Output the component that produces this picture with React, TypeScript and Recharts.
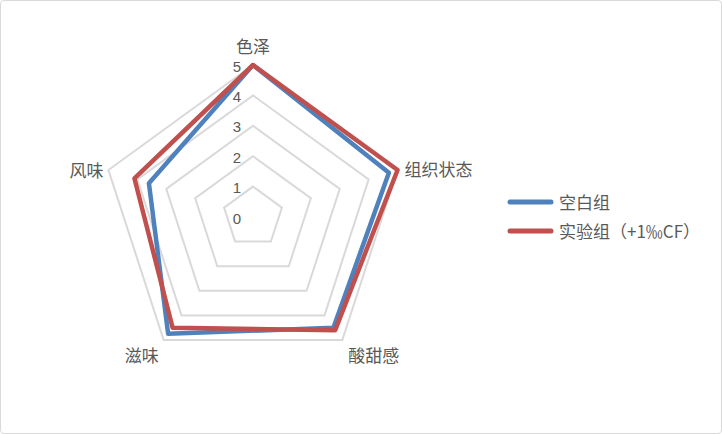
import React from "react";
import { RadarChart, Radar, PolarGrid, PolarAngleAxis, PolarRadiusAxis, Legend } from "recharts";

const attributes = ["色泽", "组织状态", "酸甜感", "滋味", "风味"];
const blankGroup = [5, 4.7, 4.5, 4.75, 3.6];
const cfGroup = [5, 5, 4.6, 4.5, 4.1];
const radiusTicks = [0, 1, 2, 3, 4, 5];
const seriesNames = ["空白组", "实验组（+1‰CF）"];

const data = attributes.map((name, i) => ({ name, blank: blankGroup[i], cf: cfGroup[i] }));

const W = 722;
const H = 434;
const CX = 253;
const CY = 217;
const R = 152;
const FONT = "'Noto Sans CJK SC', 'Noto Sans', sans-serif";
const TEXT = "#595959";
const BLUE = "#4F81BD";
const RED = "#C0504D";

// label placement around each vertex, like Excel does it
const LABEL_POS = [
  { dx: 0, dy: -20, anchor: "middle" },
  { dx: 7, dy: -2, anchor: "start" },
  { dx: 6, dy: 15, anchor: "start" },
  { dx: -5, dy: 15, anchor: "end" },
  { dx: -5, dy: -1, anchor: "end" },
];

function AngleTick(props: any) {
  const i = props.index ?? 0;
  const a = ((90 - i * 72) * Math.PI) / 180;
  const vx = CX + R * Math.cos(a);
  const vy = CY - R * Math.sin(a);
  const p = LABEL_POS[i];
  return (
    <text x={vx + p.dx} y={vy + p.dy} textAnchor={p.anchor} dominantBaseline="central"
      fill={TEXT} fontSize={17} fontFamily={FONT}>
      {props.payload.value}
    </text>
  );
}

function RadiusTick(props: any) {
  return (
    <text x={props.x - 16} y={props.y + 1} textAnchor="middle" dominantBaseline="central"
      fill={TEXT} fontSize={15} fontFamily="'Liberation Sans', sans-serif">
      {props.payload.value}
    </text>
  );
}

function LegendBox() {
  const colors = [BLUE, RED];
  return (
    <div style={{ fontFamily: FONT, fontSize: 17, color: TEXT }}>
      {seriesNames.map((n, i) => (
        <div key={n} style={{ display: "flex", alignItems: "center", height: 29 }}>
          <svg width={48} height={10} style={{ marginRight: 4 }}>
            <line x1={3} y1={5} x2={44} y2={5} stroke={colors[i]} strokeWidth={5} strokeLinecap="round" />
          </svg>
          <span>{n}</span>
        </div>
      ))}
    </div>
  );
}

export default function App() {
  return (
    <div style={{ position: "absolute", left: 0, top: 0, width: W, height: H, background: "#fff" }}>
      <div style={{ position: "absolute", inset: 0, border: "1px solid #D9D9D9", borderRadius: 4, boxSizing: "border-box" }} />
      <RadarChart width={W} height={H} data={data} cx={CX} cy={CY} outerRadius={R}
        margin={{ top: 0, right: 0, bottom: 0, left: 0 }}>
        <PolarGrid gridType="polygon" radialLines={false} stroke="#D9D9D9" strokeWidth={2} />
        <PolarAngleAxis dataKey="name" tick={<AngleTick />} tickLine={false} axisLine={false} />
        <PolarRadiusAxis angle={90} domain={[0, 5]} ticks={radiusTicks} tickCount={6}
          axisLine={false} tick={<RadiusTick />} />
        <Radar name={seriesNames[0]} dataKey="blank" stroke={BLUE} strokeWidth={4.5} fill="none"
          fillOpacity={0} dot={false} isAnimationActive={false} strokeLinejoin="round" />
        <Radar name={seriesNames[1]} dataKey="cf" stroke={RED} strokeWidth={4.5} fill="none"
          fillOpacity={0} dot={false} isAnimationActive={false} strokeLinejoin="round" />
        <Legend content={<LegendBox />} layout="vertical"
          wrapperStyle={{ left: 507, top: 187, width: 210 }} />
      </RadarChart>
    </div>
  );
}
